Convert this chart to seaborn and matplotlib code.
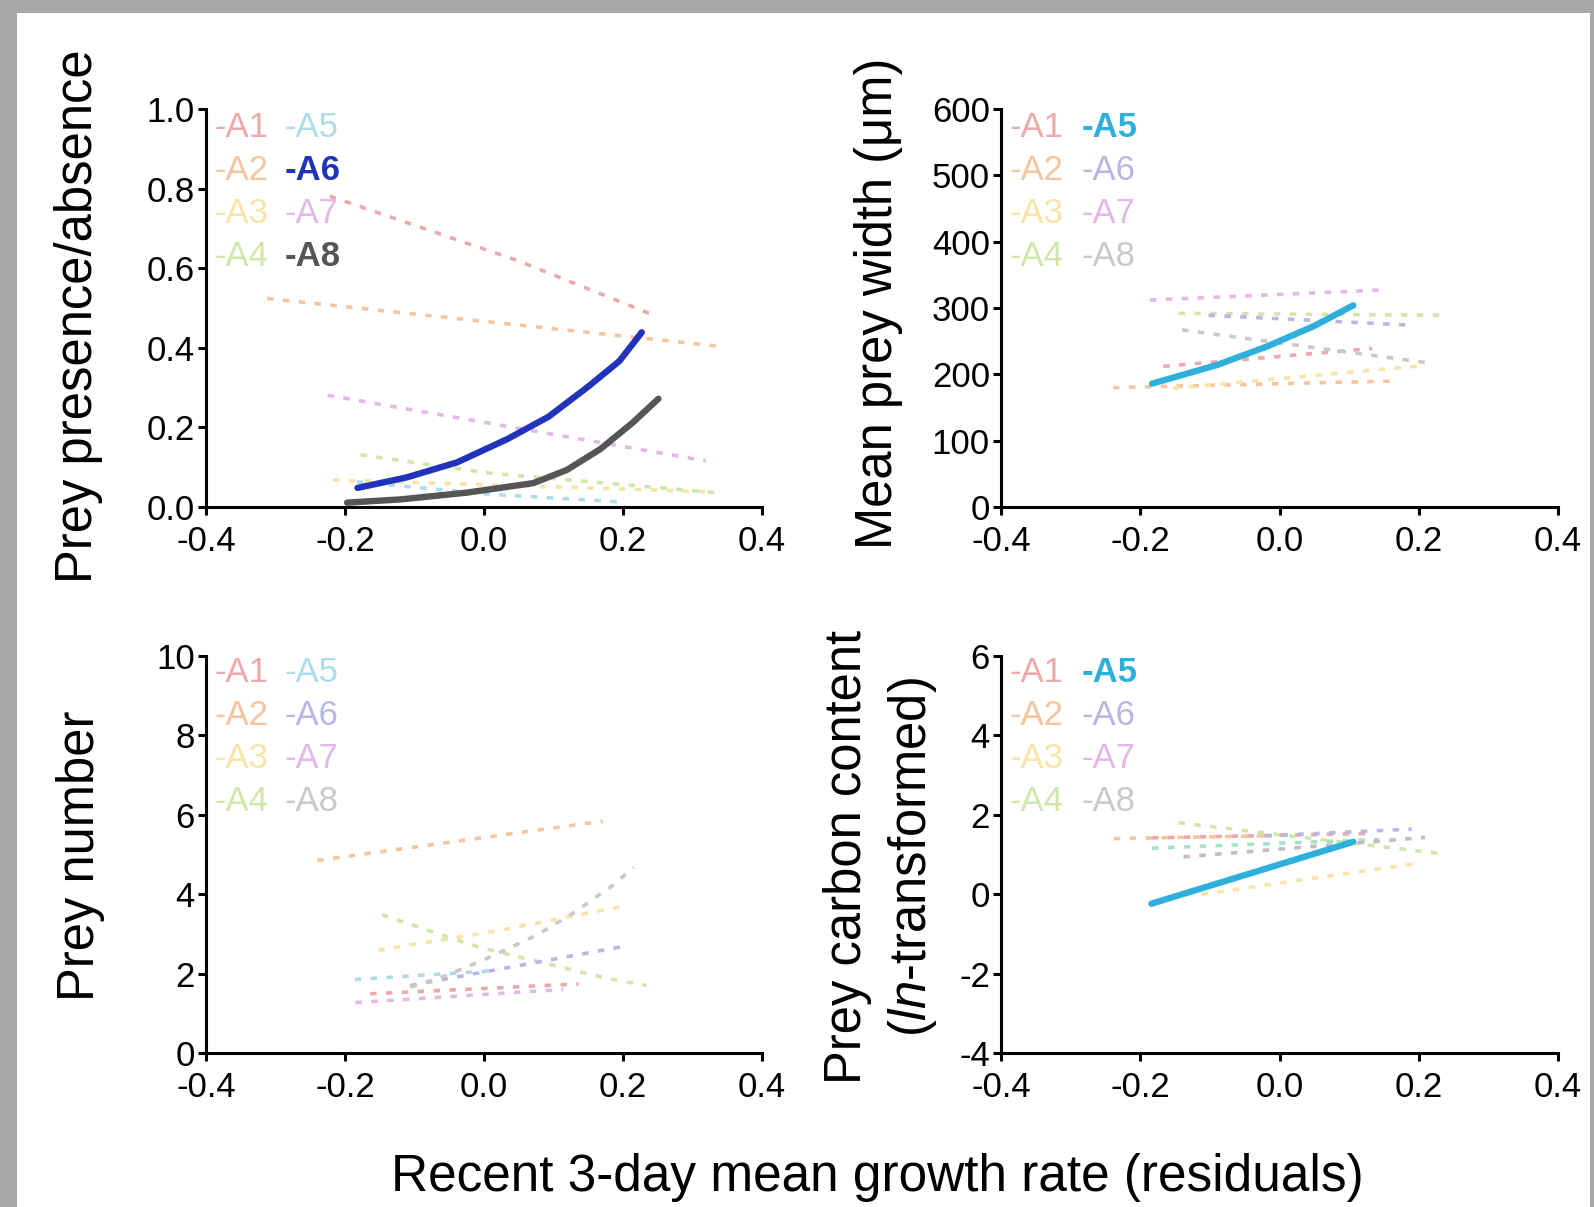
import matplotlib
matplotlib.use("Agg")
import matplotlib.pyplot as plt
import seaborn as sns
import pandas as pd
from matplotlib.patches import Rectangle
from matplotlib.ticker import FormatStrFormatter

# ---------------- data ----------------
ANIMALS = ["A1", "A2", "A3", "A4", "A5", "A6", "A7", "A8"]
X_TICKS = [-0.4, -0.2, 0.0, 0.2, 0.4]

# Panel 1: prey presence/absence
P1_YTICKS = [0.0, 0.2, 0.4, 0.6, 0.8, 1.0]
p1_x = {
    "A1": [-0.222, 0.047, 0.240],
    "A2": [-0.312, 0.338],
    "A3": [-0.217, 0.330],
    "A4": [-0.178, 0.009, 0.334],
    "A5": [-0.183, 0.009, 0.193],
    "A6": [-0.182, -0.112, -0.039, 0.034, 0.093, 0.151, 0.195, 0.227],
    "A7": [-0.225, 0.319],
    "A8": [-0.197, -0.121, -0.025, 0.071, 0.119, 0.167, 0.214, 0.251],
}
p1_y = {
    "A1": [0.781, 0.620, 0.485],
    "A2": [0.524, 0.404],
    "A3": [0.068, 0.038],
    "A4": [0.131, 0.085, 0.036],
    "A5": [0.063, 0.032, 0.013],
    "A6": [0.048, 0.074, 0.112, 0.171, 0.227, 0.304, 0.367, 0.439],
    "A7": [0.281, 0.116],
    "A8": [0.011, 0.019, 0.036, 0.060, 0.093, 0.145, 0.212, 0.272],
}
p1_bold = ["A6", "A8"]

# Panel 2: mean prey width
P2_YTICKS = [0, 100, 200, 300, 400, 500, 600]
p2_x = {
    "A1": [-0.167, 0.133],
    "A2": [-0.239, 0.166],
    "A3": [-0.153, 0.205],
    "A4": [-0.145, 0.233],
    "A5": [-0.183, -0.090, -0.018, 0.050, 0.106],
    "A6": [-0.102, 0.192],
    "A7": [-0.186, 0.144],
    "A8": [-0.140, 0.209],
}
p2_y = {
    "A1": [212, 239],
    "A2": [180, 190],
    "A3": [179, 213],
    "A4": [292, 289],
    "A5": [186, 214, 242, 273, 304],
    "A6": [289, 274],
    "A7": [312, 327],
    "A8": [267, 218],
}
p2_bold = ["A5"]

# Panel 3: prey number
P3_YTICKS = [0, 2, 4, 6, 8, 10]
p3_x = {
    "A1": [-0.164, 0.136],
    "A2": [-0.240, 0.171],
    "A3": [-0.152, 0.013, 0.204],
    "A4": [-0.147, -0.010, 0.177, 0.234],
    "A5": [-0.186, 0.020],
    "A6": [-0.106, 0.196],
    "A7": [-0.185, 0.114],
    "A8": [-0.106, -0.059, -0.001, 0.076, 0.128, 0.186, 0.215],
}
p3_y = {
    "A1": [1.49, 1.74],
    "A2": [4.85, 5.84],
    "A3": [2.59, 3.06, 3.71],
    "A4": [3.48, 2.68, 1.88, 1.70],
    "A5": [1.85, 2.08],
    "A6": [1.70, 2.67],
    "A7": [1.27, 1.60],
    "A8": [1.66, 1.92, 2.34, 2.97, 3.52, 4.23, 4.68],
}
p3_bold = []

# Panel 4: prey carbon content (ln-transformed)
P4_YTICKS = [-4, -2, 0, 2, 4, 6]
p4_x = {
    "A2": [-0.238, -0.020],
    "A1": [-0.183, 0.125],
    "A3": [-0.112, 0.200],
    "A4": [-0.145, 0.228],
    "A5": [-0.184, 0.106],
    "A6": [-0.020, 0.190],
    "A7": [-0.183, 0.142],
    "A8": [-0.138, 0.209],
}
p4_y = {
    "A2": [1.40, 1.47],
    "A1": [1.42, 1.53],
    "A3": [0.00, 0.78],
    "A4": [1.80, 1.03],
    "A5": [-0.24, 1.32],
    "A6": [1.47, 1.64],
    "A7": [1.16, 1.38],
    "A8": [0.94, 1.43],
}
p4_bold = ["A5"]

# ---------------- style ----------------
FADED = {
    "A1": "#eca9a9", "A2": "#f6c49d", "A3": "#f8e4a6", "A4": "#cfe8aa",
    "A5": "#abdcea", "A6": "#b7b7e2", "A7": "#e3b7e8", "A8": "#c9c9c9",
}
BOLD = {"A5": "#2fb0dc", "A6": "#2233bb", "A8": "#555555"}
P4_LINE_OVERRIDE = {"A7": "#a3e2c4", "A8": "#c8b9c9"}

sns.set_style("ticks")
plt.rcParams["font.family"] = ["Liberation Sans", "DejaVu Sans"]
plt.rcParams["axes.unicode_minus"] = False
plt.rcParams["text.color"] = "black"
plt.rcParams["mathtext.fontset"] = "custom"
plt.rcParams["mathtext.rm"] = "Liberation Sans"
plt.rcParams["mathtext.it"] = "Liberation Sans:italic"

W, H = 1594, 1207
fig = plt.figure(figsize=(W / 100, H / 100), dpi=100, facecolor="#a7a7a7")
fig.patches.append(Rectangle((17 / W, 0), (1590 - 17) / W, 1194 / H,
                             transform=fig.transFigure, facecolor="white",
                             edgecolor="none", zorder=-5))

def axes_at(x0, x1, ytop, ybot):
    return fig.add_axes([x0 / W, (H - ybot) / H, (x1 - x0) / W, (ybot - ytop) / H])

ax1 = axes_at(206, 762, 109, 507)
ax2 = axes_at(1001, 1558, 109, 507)
ax3 = axes_at(206, 762, 656, 1053)
ax4 = axes_at(1001, 1558, 656, 1053)

DASH = (0, (1.8, 2.6))

def draw(ax, xs, ys, bold, yticks, yfmt, override=None):
    override = override or {}
    for a in xs:
        if a in bold:
            continue
        df = pd.DataFrame({"x": xs[a], "y": ys[a]})
        sns.lineplot(data=df, x="x", y="y", ax=ax, estimator=None, sort=False,
                     color=override.get(a, FADED[a]), linewidth=2.6, linestyle=DASH)
    for a in bold:
        df = pd.DataFrame({"x": xs[a], "y": ys[a]})
        sns.lineplot(data=df, x="x", y="y", ax=ax, estimator=None, sort=False,
                     color=BOLD[a], linewidth=4.6, solid_capstyle="round",
                     solid_joinstyle="round")
    ax.set_xlim(X_TICKS[0], X_TICKS[-1])
    ax.set_ylim(yticks[0], yticks[-1])
    ax.set_xticks(X_TICKS)
    ax.set_yticks(yticks)
    ax.xaxis.set_major_formatter(FormatStrFormatter("%.1f"))
    ax.yaxis.set_major_formatter(FormatStrFormatter(yfmt))
    ax.set_xlabel("")
    ax.set_ylabel("")
    sns.despine(ax=ax)
    for s in ("left", "bottom"):
        ax.spines[s].set_linewidth(2.2)
        ax.spines[s].set_color("black")
    ax.tick_params(axis="both", direction="out", length=6, width=2.2,
                   labelsize=25, colors="black")
    ax.tick_params(axis="x", pad=7)
    ax.tick_params(axis="y", pad=2)
    for line in ax.lines:
        line.set_clip_on(False)

def legend(ax, bold, cols, rows):
    for i, a in enumerate(ANIMALS):
        c, r = i // 4, i % 4
        if a in bold:
            ax.text(cols[c], rows[r], "-" + a, transform=ax.transAxes,
                    color=BOLD[a], fontsize=25, fontweight="bold", va="baseline", ha="left")
        else:
            ax.text(cols[c], rows[r], "-" + a, transform=ax.transAxes,
                    color=FADED[a], fontsize=25, va="baseline", ha="left")

draw(ax1, p1_x, p1_y, p1_bold, P1_YTICKS, "%.1f")
draw(ax2, p2_x, p2_y, p2_bold, P2_YTICKS, "%d")
draw(ax3, p3_x, p3_y, p3_bold, P3_YTICKS, "%d")
draw(ax4, p4_x, p4_y, p4_bold, P4_YTICKS, "%d", P4_LINE_OVERRIDE)

top_rows = [0.930, 0.822, 0.714, 0.606]
bot_rows = [0.934, 0.826, 0.718, 0.610]
legend(ax1, p1_bold, [0.016, 0.142], top_rows)
legend(ax2, p2_bold, [0.016, 0.144], top_rows)
legend(ax3, p3_bold, [0.016, 0.142], bot_rows)
legend(ax4, p4_bold, [0.016, 0.144], bot_rows)

LS = 36.5
fig.text(79 / W, 1 - 316 / H, "Prey presence/absence", rotation=90,
         ha="center", va="center", fontsize=LS, color="black")
fig.text(878 / W, 1 - 303 / H, "Mean prey width (\u03bcm)", rotation=90,
         ha="center", va="center", fontsize=LS, color="black")
fig.text(81 / W, 1 - 856 / H, "Prey number", rotation=90,
         ha="center", va="center", fontsize=LS, color="black")
fig.text(847 / W, 1 - 857 / H, "Prey carbon content", rotation=90,
         ha="center", va="center", fontsize=LS, color="black")
fig.text(912 / W, 1 - 857 / H, "($\\mathit{ln}$-transformed)", rotation=90,
         ha="center", va="center", fontsize=LS, color="black")
fig.text(877 / W, 1 - 1178 / H, "Recent 3-day mean growth rate (residuals)",
         ha="center", va="center", fontsize=37, color="black")

fig.savefig("out.png", dpi=100, facecolor=fig.get_facecolor())
